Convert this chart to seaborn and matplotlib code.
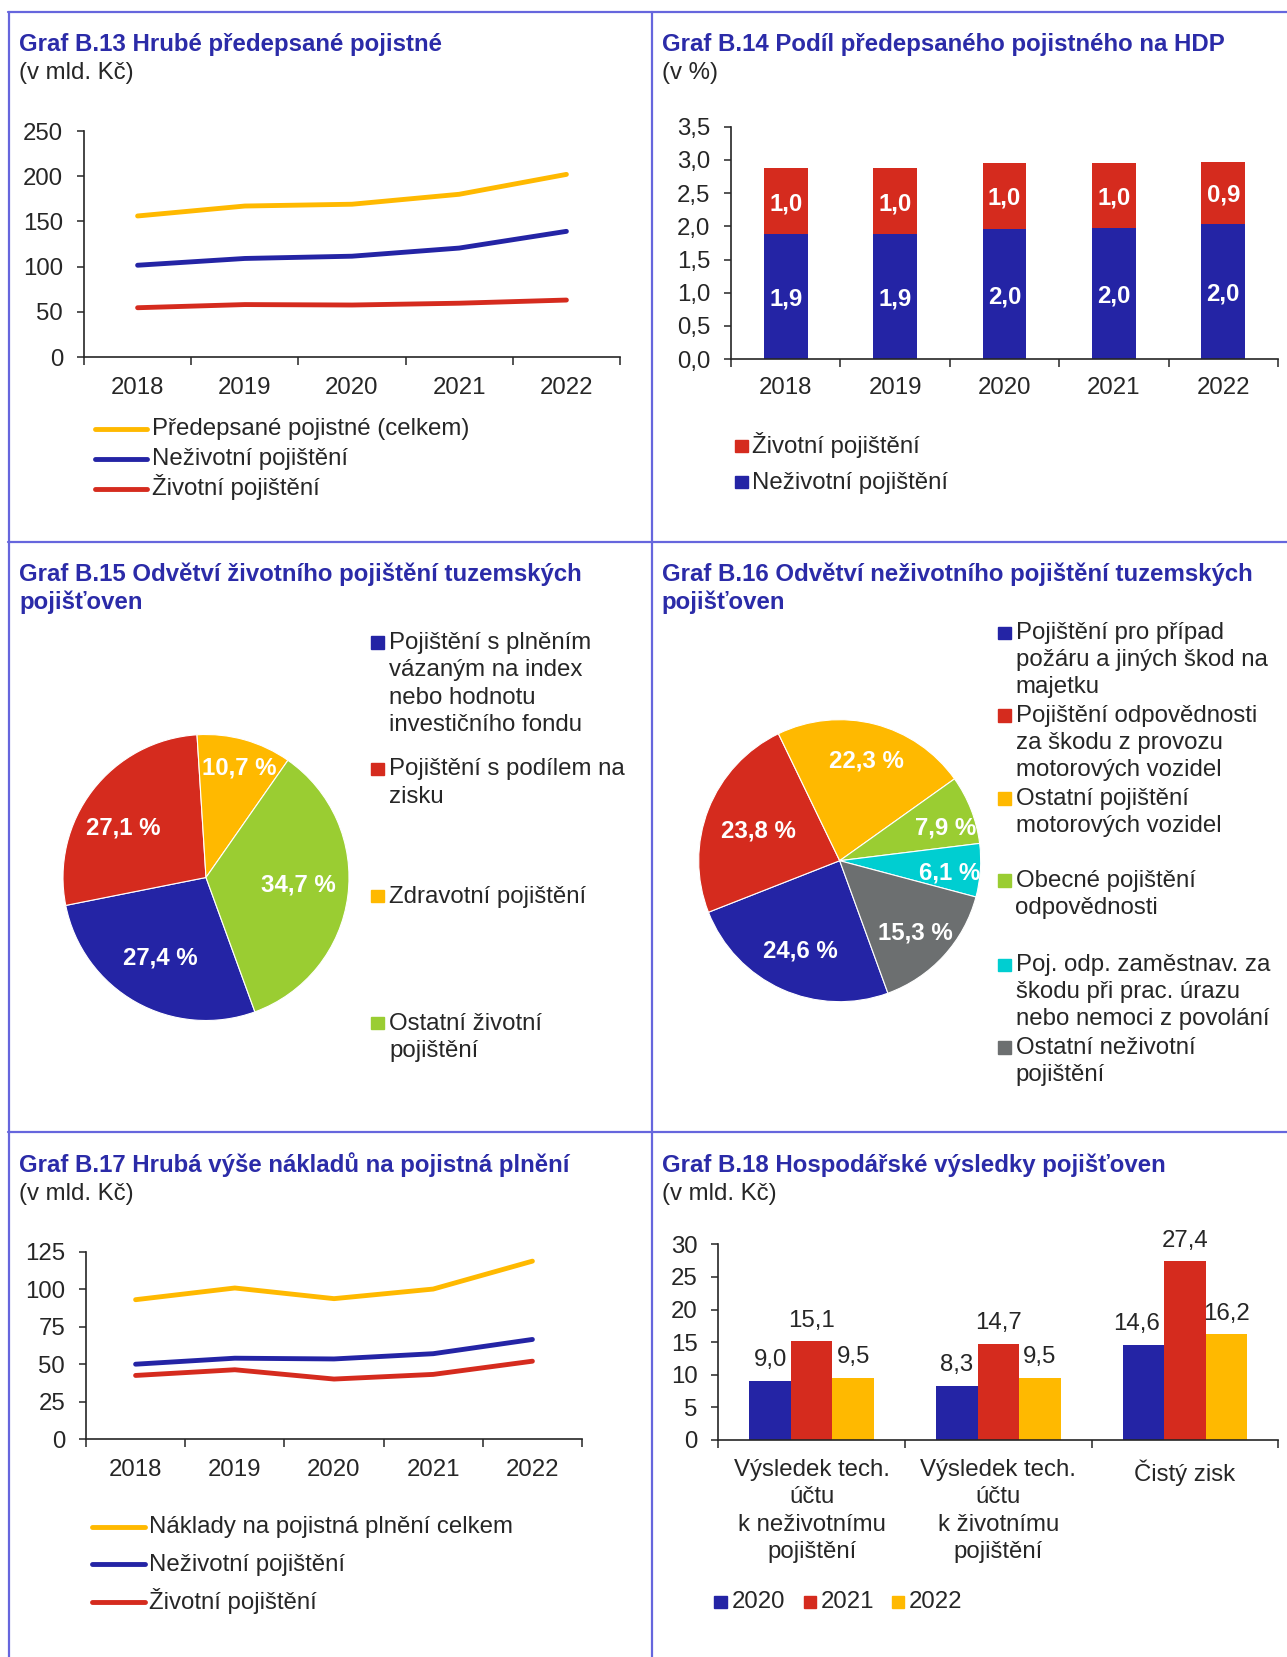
"""Pojišťovny - grafy B.13 až B.18 v jednom obrázku (out.png)."""

import matplotlib
matplotlib.use("Agg")  # bez displeje
import matplotlib.pyplot as plt
import numpy as np
import pandas as pd
import seaborn as sns
from matplotlib.lines import Line2D
from matplotlib.patches import Rectangle
from matplotlib.ticker import FuncFormatter

W, H = 1287, 1657
FS = 17.3

BLUE = "#2424A5"
RED = "#D52B1E"
YELLOW = "#FFB900"
GREEN = "#9ACD32"
CYAN = "#00CED1"
GRAY = "#6C6F70"
TITLE = "#2B2BA8"
BORDER = "#6666DD"

YEARS = ["2018", "2019", "2020", "2021", "2022"]

# B.13 Hrubé předepsané pojistné (mld. Kč)
B13_TOTAL = [156, 167, 169, 180, 202]
B13_NONLIFE = [101.5, 109, 111.5, 120.5, 139]
B13_LIFE = [54.5, 58, 57.5, 59.5, 63]
B13_LABELS = ["Předepsané pojistné (celkem)", "Neživotní pojištění", "Životní pojištění"]

# B.14 Podíl předepsaného pojistného na HDP (%)
B14_NONLIFE = [1.88, 1.88, 1.96, 1.97, 2.04]
B14_LIFE = [1.00, 1.00, 1.00, 0.98, 0.93]
B14_LABELS = ["Životní pojištění", "Neživotní pojištění"]

# B.15 Odvětví životního pojištění (%)
B15_SHARES = [27.4, 27.1, 10.7, 34.7]
B15_LABELS = [
    "Pojištění s plněním\nvázaným na index\nnebo hodnotu\ninvestičního fondu",
    "Pojištění s podílem na\nzisku",
    "Zdravotní pojištění",
    "Ostatní životní\npojištění",
]

# B.16 Odvětví neživotního pojištění (%)
B16_SHARES = [24.6, 23.8, 22.3, 7.9, 6.1, 15.3]
B16_LABELS = [
    "Pojištění pro případ\npožáru a jiných škod na\nmajetku",
    "Pojištění odpovědnosti\nza škodu z provozu\nmotorových vozidel",
    "Ostatní pojištění\nmotorových vozidel",
    "Obecné pojištění\nodpovědnosti",
    "Poj. odp. zaměstnav. za\nškodu při prac. úrazu\nnebo nemoci z povolání",
    "Ostatní neživotní\npojištění",
]

# B.17 Hrubá výše nákladů na pojistná plnění (mld. Kč)
B17_TOTAL = [93, 100.8, 93.7, 100.1, 118.7]
B17_NONLIFE = [50, 54, 53.5, 57, 66.5]
B17_LIFE = [42.5, 46.3, 40.1, 43.2, 52]
B17_LABELS = ["Náklady na pojistná plnění celkem", "Neživotní pojištění", "Životní pojištění"]

# B.18 Hospodářské výsledky pojišťoven (mld. Kč)
B18_CATS = [
    "Výsledek tech.\núčtu\nk neživotnímu\npojištění",
    "Výsledek tech.\núčtu\nk životnímu\npojištění",
    "Čistý zisk",
]
B18_YEARS = ["2020", "2021", "2022"]
B18_2020 = [9.0, 8.3, 14.6]
B18_2021 = [15.1, 14.7, 27.4]
B18_2022 = [9.5, 9.5, 16.2]

sns.set_style("ticks")
plt.rcParams["font.family"] = ["Liberation Sans", "DejaVu Sans"]
plt.rcParams["font.size"] = FS

fig = plt.figure(figsize=(W / 100, H / 100), dpi=100)


def fx(x):
    return x / W


def fy(y):
    return 1 - y / H


def ftext(x, y, s, **kw):
    fig.text(fx(x), fy(y), s, fontsize=kw.pop("fontsize", FS), **kw)


def line_center(x, yc, s, **kw):
    # text placed by its visual middle
    ftext(x, yc + 6.5, s, va="baseline", **kw)


def px_axes(left, top, right, bottom):
    return fig.add_axes([fx(left), fy(bottom), (right - left) / W, (bottom - top) / H])


def comma(v, nd=1):
    return f"{v:.{nd}f}".replace(".", ",")


def style_axis(ax, labels, ymax, ystep, xpad):
    n = len(labels)
    sns.despine(ax=ax)
    ax.set_xlim(-0.5, n - 0.5)
    ax.set_ylim(0, ymax)
    ax.set_yticks(np.arange(0, ymax + ystep / 2, ystep))
    ax.set_xticks(np.arange(-0.5, n, 1))
    ax.set_xticks(range(n), labels=labels, minor=True)
    ax.tick_params(axis="x", which="major", length=6, width=1.1, labelbottom=False)
    ax.tick_params(axis="x", which="minor", length=0, pad=xpad, labelsize=FS)
    ax.tick_params(axis="y", length=5, width=1.1, pad=10, labelsize=FS)
    ax.set_xlabel("")
    ax.set_ylabel("")
    for side in ("left", "bottom"):
        ax.spines[side].set_linewidth(1.2)


def line_legend(x0, x1, xt, rows, colors, labels):
    for y, c, lab in zip(rows, colors, labels):
        fig.add_artist(Line2D([fx(x0), fx(x1)], [fy(y), fy(y)], color=c, lw=3.5,
                              solid_capstyle="round"))
        line_center(xt, y, lab)


def square_legend(xs, xts, rows, colors, labels, step=27.2, size=12.5):
    for x, xt, y, c, lab in zip(xs, xts, rows, colors, labels):
        fig.add_artist(Rectangle((fx(x), fy(y + size / 2)), size / W, size / H,
                                 color=c, transform=fig.transFigure))
        for i, part in enumerate(lab.split("\n")):
            line_center(xt, y + i * step, part)


def pie_panel(ax, shares, colors, dists, turns):
    wedges, _ = ax.pie(shares, colors=colors, startangle=-70, counterclock=False,
                       radius=1, wedgeprops=dict(edgecolor="white", linewidth=0.8))
    for w, v, d, t in zip(wedges, shares, dists, turns):
        ang = np.deg2rad((w.theta1 + w.theta2) / 2 + t)
        ax.text(d * np.cos(ang), d * np.sin(ang), f"{comma(v)} %", color="white",
                fontweight="bold", fontsize=FS, ha="center", va="center_baseline")
    ax.set_xlim(-1, 1)
    ax.set_ylim(-1, 1)
    ax.set_aspect("equal")
    ax.set_axis_off()


# panel borders
for x0, y0, x1, y1 in [(8, 12, W, 12), (9, 12, 9, H), (652, 12, 652, H),
                       (8, 542, W, 542), (8, 1132, W, 1132)]:
    fig.add_artist(Line2D([fx(x0), fx(x1)], [fy(y0), fy(y1)], color=BORDER, lw=1.6))

# ---------------- B.13 ----------------
ftext(18.7, 51, "Graf B.13 Hrubé předepsané pojistné", color=TITLE, fontweight="bold")
ftext(18.7, 79, "(v mld. Kč)")
ax13 = px_axes(84, 131, 620, 357)
for vals, c in [(B13_TOTAL, YELLOW), (B13_NONLIFE, BLUE), (B13_LIFE, RED)]:
    sns.lineplot(x=YEARS, y=vals, color=c, linewidth=3.5, solid_capstyle="round", ax=ax13)
style_axis(ax13, YEARS, 250, 50, 14.4)
line_legend(94.5, 147, 152, [428.5, 458.5, 488.5], [YELLOW, BLUE, RED], B13_LABELS)

# ---------------- B.14 ----------------
ftext(661.5, 51, "Graf B.14 Podíl předepsaného pojistného na HDP", color=TITLE, fontweight="bold")
ftext(661.5, 79, "(v %)")
ax14 = px_axes(731, 126.7, 1278, 359.2)
b14_total = [a + b for a, b in zip(B14_NONLIFE, B14_LIFE)]
sns.barplot(x=YEARS, y=b14_total, color=RED, width=0.4, saturation=1, linewidth=0, ax=ax14)
sns.barplot(x=YEARS, y=B14_NONLIFE, color=BLUE, width=0.4, saturation=1, linewidth=0, ax=ax14)
for i, (nl, lf) in enumerate(zip(B14_NONLIFE, B14_LIFE)):
    ax14.text(i, nl / 2, comma(nl), color="white", fontweight="bold", fontsize=FS,
              ha="center", va="center_baseline")
    ax14.text(i, nl + lf / 2, comma(lf), color="white", fontweight="bold", fontsize=FS,
              ha="center", va="center_baseline")
style_axis(ax14, YEARS, 3.5, 0.5, 13)
ax14.yaxis.set_major_formatter(FuncFormatter(lambda v, _: comma(v)))
square_legend([735, 735], [752, 752], [446, 482], [RED, BLUE], B14_LABELS)

# ---------------- B.15 ----------------
ftext(19, 581, "Graf B.15 Odvětví životního pojištění tuzemských", color=TITLE, fontweight="bold")
ftext(19, 609, "pojišťoven", color=TITLE, fontweight="bold")
ax15 = px_axes(206 - 143, 877.5 - 143, 206 + 143, 877.5 + 143)
pie_panel(ax15, B15_SHARES, [BLUE, RED, YELLOW, GREEN], [0.63, 0.68, 0.82, 0.65],
          [-1, 5.5, -1, 4.5])
square_legend([371] * 4, [389] * 4, [642.6, 769, 896, 1023], [BLUE, RED, YELLOW, GREEN],
              B15_LABELS, step=27.3)

# ---------------- B.16 ----------------
ftext(661.5, 581, "Graf B.16 Odvětví neživotního pojištění tuzemských", color=TITLE, fontweight="bold")
ftext(661.5, 609, "pojišťoven", color=TITLE, fontweight="bold")
ax16 = px_axes(839.7 - 141, 860.7 - 141, 839.7 + 141, 860.7 + 141)
pie_panel(ax16, B16_SHARES, [BLUE, RED, YELLOW, GREEN, CYAN, GRAY],
          [0.68, 0.62, 0.75, 0.79, 0.78, 0.73], [0, 0, 0, -3, -1, 0])
square_legend([998] * 6, [1015.5] * 6, [633, 715.5, 798.3, 880.6, 964.8, 1047.3],
              [BLUE, RED, YELLOW, GREEN, CYAN, GRAY], B16_LABELS, step=27)

# ---------------- B.17 ----------------
ftext(19, 1172, "Graf B.17 Hrubá výše nákladů na pojistná plnění", color=TITLE, fontweight="bold")
ftext(19, 1200, "(v mld. Kč)")
ax17 = px_axes(86, 1251.7, 582, 1439.2)
for vals, c in [(B17_TOTAL, YELLOW), (B17_NONLIFE, BLUE), (B17_LIFE, RED)]:
    sns.lineplot(x=YEARS, y=vals, color=c, linewidth=3.5, solid_capstyle="round", ax=ax17)
style_axis(ax17, YEARS, 125, 25, 14.4)
line_legend(92, 145, 149.3, [1526.5, 1564, 1602], [YELLOW, BLUE, RED], B17_LABELS)

# ---------------- B.18 ----------------
ftext(661.5, 1172, "Graf B.18 Hospodářské výsledky pojišťoven", color=TITLE, fontweight="bold")
ftext(661.5, 1200, "(v mld. Kč)")
ax18 = px_axes(718.4, 1244.3, 1278.3, 1439.9)
df18 = pd.DataFrame({
    "kategorie": B18_CATS * 3,
    "rok": np.repeat(B18_YEARS, len(B18_CATS)),
    "hodnota": B18_2020 + B18_2021 + B18_2022,
})
sns.barplot(data=df18, x="kategorie", y="hodnota", hue="rok",
            palette=dict(zip(B18_YEARS, [BLUE, RED, YELLOW])), width=0.667,
            saturation=1, linewidth=0, legend=False, ax=ax18)
for cont, vals in zip(ax18.containers, [B18_2020, B18_2021, B18_2022]):
    texts = ax18.bar_label(cont, labels=[comma(v) for v in vals], padding=7, fontsize=FS)
    if vals is B18_2020:
        # Excel odsunulo popisek vedle vysokého sloupce doleva
        texts[-1].xyann = (-5, 7)
style_axis(ax18, B18_CATS, 30, 5, 14)
for lbl in ax18.get_xticklabels(minor=True):
    lbl.set_linespacing(1.3)
square_legend([714.3, 803.8, 891.7], [731.6, 820.3, 909], [1602] * 3, [BLUE, RED, YELLOW],
              B18_YEARS)

fig.savefig("out.png", dpi=100)
plt.close(fig)
